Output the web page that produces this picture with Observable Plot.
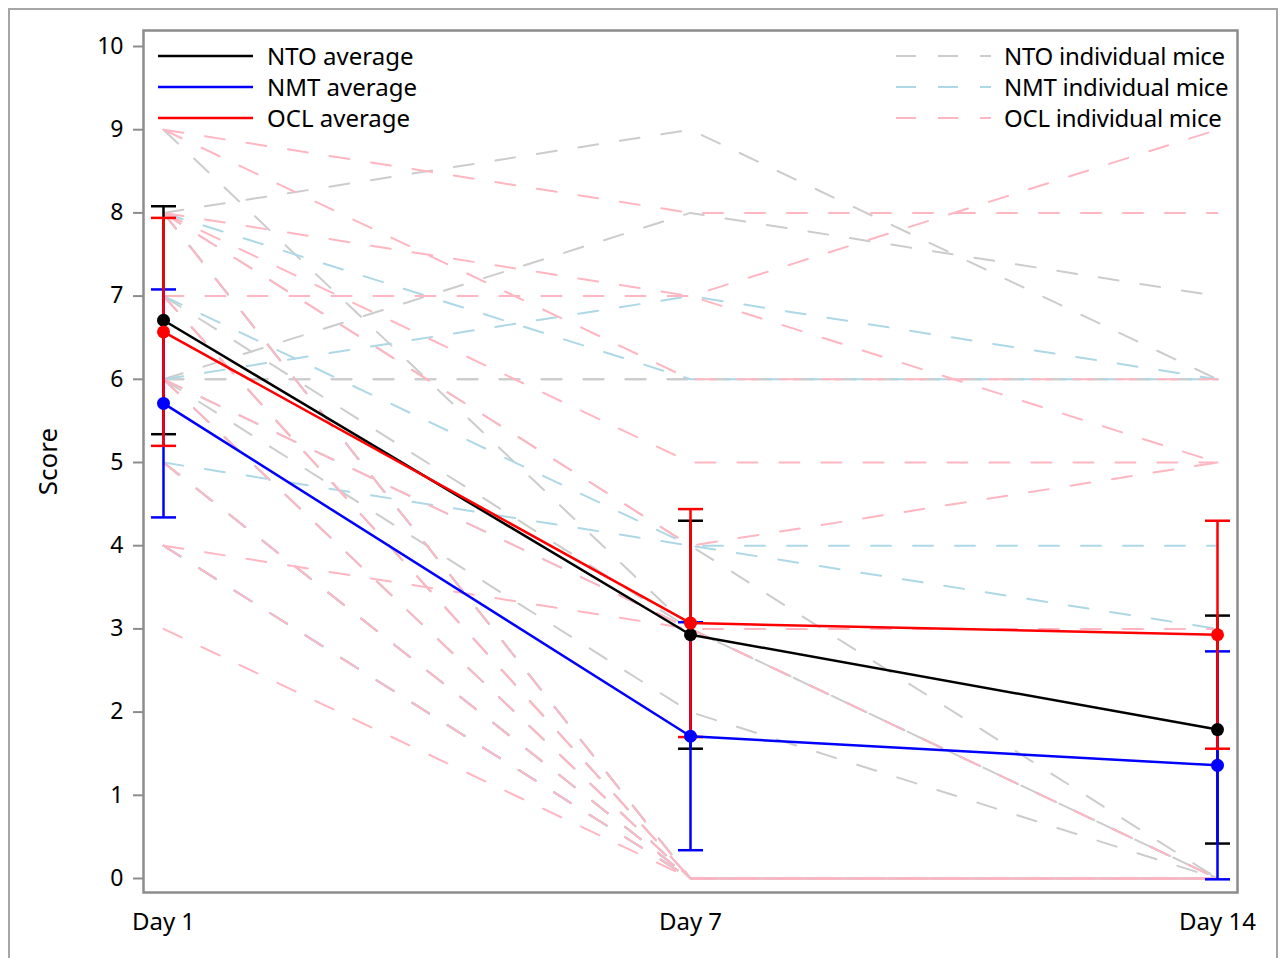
<!DOCTYPE html>
<html><head><meta charset="utf-8">
<script src="https://cdn.jsdelivr.net/npm/d3@7"></script>
<script src="https://cdn.jsdelivr.net/npm/@observablehq/plot@0.6"></script>
<style>
html,body{margin:0;padding:0;background:#fff;overflow:hidden;}
#wrap{position:relative;width:1285px;height:958px;font-family:"Noto Sans",sans-serif;}
#border{position:absolute;left:8px;top:8px;width:1270px;height:1000px;border:2px solid #a6a6a6;box-sizing:border-box;}
#chart{position:absolute;left:0;top:0;}
.legend{position:absolute;top:40px;font-size:24px;color:#000;}
.legend .row{height:31px;display:flex;align-items:center;}
.legend svg{display:block;margin-right:14px;}
#legR{letter-spacing:-0.25px;}
#legR svg{margin-right:13px;}
</style></head>
<body><div id="wrap"><div id="border"></div><div id="chart"></div>
<div class="legend" id="legL" style="left:158px"></div>
<div class="legend" id="legR" style="left:896px"></div>
</div>
<script>
const days = ["Day 1", "Day 7", "Day 14"];
const yTicks = [0, 1, 2, 3, 4, 5, 6, 7, 8, 9, 10];
const groups = ["NTO", "NMT", "OCL"];

// individual mice (one entry per mouse)
const ntoDay1  = [8, 6, 6, 6, 8, 9, 7, 6, 8, 7, 7, 6, 5, 5];
const ntoDay7  = [9, 8, 6, 6, 4, 3, 3, 2, 0, 0, 0, 0, 0, 0];
const ntoDay14 = [6, 7, 6, 6, 0, 0, 0, 0, 0, 0, 0, 0, 0, 0];

const nmtDay1  = [6, 8, 5, 7, 6, 8, 8, 6, 5, 5, 4, 4, 4, 4];
const nmtDay7  = [7, 6, 4, 4, 3, 0, 0, 0, 0, 0, 0, 0, 0, 0];
const nmtDay14 = [6, 6, 4, 3, 0, 0, 0, 0, 0, 0, 0, 0, 0, 0];

const oclDay1  = [9, 9, 7, 8, 8, 8, 4, 6, 3, 4, 8, 7, 6, 5];
const oclDay7  = [8, 6, 7, 7, 5, 4, 3, 3, 0, 0, 0, 0, 0, 0];
const oclDay14 = [8, 6, 9, 5, 5, 5, 3, 0, 0, 0, 0, 0, 0, 0];

// group averages and error (±)
const ntoAvg = [6.71, 2.93, 1.79];
const nmtAvg = [5.71, 1.71, 1.36];
const oclAvg = [6.57, 3.07, 2.93];
const ntoErr = [1.37, 1.37, 1.37];
const nmtErr = [1.37, 1.37, 1.37];
const oclErr = [1.37, 1.37, 1.37];

const avgColors = ["#000000", "#0000ff", "#ff0000"];
const indColors = ["#cccccc", "#add8e6", "#ffb6c1"];
const avgLabels = ["NTO average", "NMT average", "OCL average"];
const indLabels = ["NTO individual mice", "NMT individual mice", "OCL individual mice"];
const dash = "20,22";

const indSets = [[ntoDay1, ntoDay7, ntoDay14], [nmtDay1, nmtDay7, nmtDay14], [oclDay1, oclDay7, oclDay14]];
const avgSets = [ntoAvg, nmtAvg, oclAvg];
const errSets = [ntoErr, nmtErr, oclErr];

const indRows = groups.map((g, gi) => {
  const rows = [];
  const [a, b, c] = indSets[gi];
  a.forEach((_, i) => {
    [a[i], b[i], c[i]].forEach((v, di) => rows.push({group: g, id: g + i, day: days[di], score: v}));
  });
  return rows;
});
const avgRows = groups.map((g, gi) => days.map((d, di) => ({group: g, day: d, mean: avgSets[gi][di], err: errSets[gi][di]})));

const capSymbol = {draw(ctx, size) { const r = Math.sqrt(size / Math.PI); ctx.moveTo(-r, 0); ctx.lineTo(r, 0); }};

const marks = [];
groups.forEach((g, gi) => {
  marks.push(Plot.line(indRows[gi], {x: "day", y: "score", z: "id", stroke: indColors[gi], strokeWidth: 2, strokeDasharray: dash}));
});
groups.forEach((g, gi) => {
  const rows = avgRows[gi];
  marks.push(Plot.ruleX(rows, {x: "day", y1: d => d.mean - d.err, y2: d => d.mean + d.err, stroke: avgColors[gi], strokeWidth: 2.5}));
  marks.push(Plot.dot(rows, {x: "day", y: d => d.mean + d.err, symbol: capSymbol, r: 12.5, stroke: avgColors[gi], strokeWidth: 2.5, fill: "none"}));
  marks.push(Plot.dot(rows, {x: "day", y: d => d.mean - d.err, symbol: capSymbol, r: 12.5, stroke: avgColors[gi], strokeWidth: 2.5, fill: "none"}));
});
groups.forEach((g, gi) => {
  marks.push(Plot.line(avgRows[gi], {x: "day", y: "mean", stroke: avgColors[gi], strokeWidth: 2.5}));
});
groups.forEach((g, gi) => {
  marks.push(Plot.dot(avgRows[gi], {x: "day", y: "mean", r: 6.5, fill: avgColors[gi], stroke: "none"}));
});
marks.push(Plot.frame({stroke: "#8c8c8c", strokeWidth: 2.5}));
marks.push(Plot.axisY({ticks: yTicks, tickSize: 10, tickPadding: 10, fontSize: 23, label: null, stroke: "#8c8c8c", fill: "#000", strokeWidth: 2}));
marks.push(Plot.axisX({tickSize: 0, tickPadding: 20, fontSize: 24, label: null, fill: "#000"}));
marks.push(Plot.text(["Score"], {frameAnchor: "left", dx: -95, rotate: -90, textAnchor: "middle", fontSize: 26, fill: "#000"}));

const chart = Plot.plot({
  width: 1285, height: 958,
  marginLeft: 143, marginRight: 48, marginTop: 30, marginBottom: 66,
  x: {type: "point", domain: days, padding: 0, inset: 20},
  y: {domain: [0, 10], insetTop: 16, insetBottom: 14},
  style: {fontFamily: "'Noto Sans', sans-serif", background: "transparent", color: "#000"},
  marks
});
document.getElementById("chart").appendChild(chart);

function legend(el, labels, colors, dashed) {
  labels.forEach((t, i) => {
    const row = document.createElement("div");
    row.className = "row";
    row.innerHTML = `<svg width="95" height="6"><line x1="0" y1="3" x2="95" y2="3" stroke="${colors[i]}" stroke-width="${dashed ? 2 : 2.5}" ${dashed ? `stroke-dasharray="${dash}"` : ""}/></svg><span>${t}</span>`;
    el.appendChild(row);
  });
}
legend(document.getElementById("legL"), avgLabels, avgColors, false);
legend(document.getElementById("legR"), indLabels, indColors, true);
</script>
</body></html>
